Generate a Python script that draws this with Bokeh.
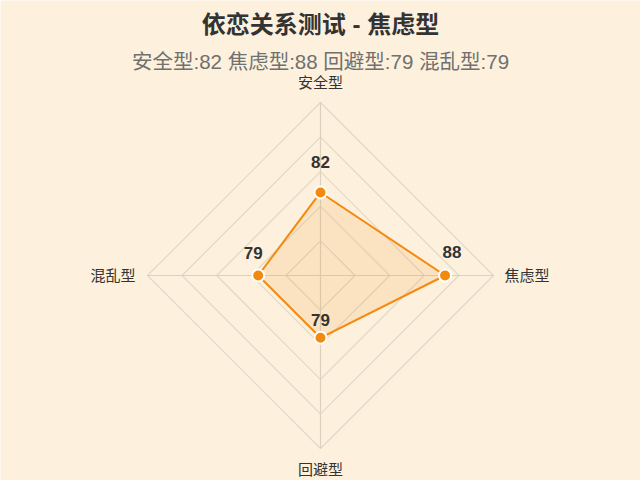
import numpy as np
from bokeh.plotting import figure
from bokeh.models import Range1d, ColumnDataSource
from bokeh.core.properties import value
from bokeh.embed import file_html
from bokeh.resources import INLINE

title = "依恋关系测试 - 焦虑型"
categories = ["安全型", "焦虑型", "回避型", "混乱型"]
scores = [82, 88, 79, 79]
axis_min = 70
axis_max = 95
n_rings = 5

subtitle = " ".join(f"{c}:{v}" for c, v in zip(categories, scores))

W, H = 640, 480
R = 173.0  # outer radius in px
FONT = value("Liberation Sans, Noto Sans CJK SC")
ORANGE = "#F28A10"
BG = "#FDF0DC"

p = figure(width=W, height=H, output_backend="svg", toolbar_location=None,
           x_range=Range1d(-320, 320), y_range=Range1d(-205, 275),
           min_border=0)
p.axis.visible = False
p.grid.visible = False
p.outline_line_color = None
p.background_fill_color = BG
p.border_fill_color = BG

n = len(categories)
# angles: top, right, bottom, left (clockwise from top)
angles = np.pi / 2 - np.arange(n) * 2 * np.pi / n

# grid rings
for k in range(1, n_rings + 1):
    rr = R * k / n_rings
    xs = list(rr * np.cos(angles)) + [rr * np.cos(angles[0])]
    ys = list(rr * np.sin(angles)) + [rr * np.sin(angles[0])]
    p.line(xs, ys, line_color="#E2D8C8", line_width=1.2)

# spokes
for a in angles:
    p.line([0, R * np.cos(a)], [0, R * np.sin(a)], line_color="#DCD0BF", line_width=1.2)

# data polygon
r = (np.array(scores) - axis_min) / (axis_max - axis_min) * R
px = r * np.cos(angles)
py = r * np.sin(angles)
p.patch(list(px), list(py), fill_color=ORANGE, fill_alpha=0.13, line_color=None)
p.line(list(px) + [px[0]], list(py) + [py[0]], line_color=ORANGE, line_width=2)
p.scatter(px, py, size=12, fill_color=ORANGE, line_color="white", line_width=2)

# value labels
lab_dx = [0, 7, 0, -5]
lab_dy = [30, 24, 18, 23]
src = ColumnDataSource(dict(x=px + np.array(lab_dx), y=py + np.array(lab_dy),
                            t=[str(s) for s in scores]))
p.text("x", "y", text="t", source=src, text_align="center", text_baseline="middle",
       text_font=FONT, text_font_size="17px", text_font_style="bold", text_color="#333333")

# axis labels
lx = [0, R + 11, 0, -(R + 12)]
ly = [R + 20, 0, -(R + 21), 0]
aligns = ["center", "left", "center", "right"]
for i in range(n):
    p.text([lx[i]], [ly[i]], text=[categories[i]], text_align=aligns[i], text_baseline="middle",
           text_font=FONT, text_font_size="15px", text_color="#333333")

# title and subtitle
p.text([0], [251], text=[title], text_align="center", text_baseline="middle",
       text_font=FONT, text_font_size="24px", text_font_style="bold", text_color="#333333")
p.text([0], [214], text=[subtitle], text_align="center", text_baseline="middle",
       text_font=FONT, text_font_size="20.5px", text_color="#707070")

open("out.html", "w").write(file_html(p, INLINE))
